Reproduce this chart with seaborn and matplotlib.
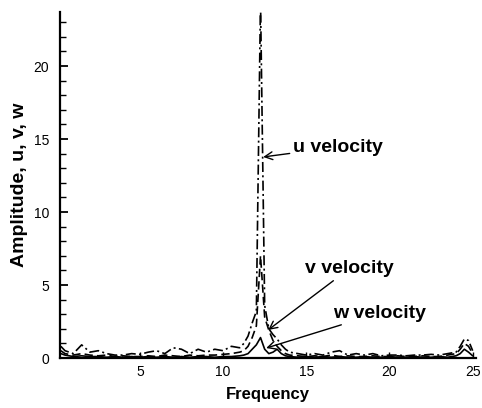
import numpy as np
import pandas as pd
import matplotlib
matplotlib.use("Agg")
import matplotlib.pyplot as plt
import seaborn as sns

freq = [0.25, 0.5, 1.0, 1.5, 2.0, 2.5, 3.0, 3.5, 4.0, 4.5, 5.0, 5.5, 6.0, 6.5,
        7.0, 7.5, 8.0, 8.5, 9.0, 9.5, 10.0, 10.5, 11.0, 11.25, 11.5, 11.75,
        12.0, 12.25, 12.5, 12.75, 13.0, 13.25, 13.5, 13.75, 14.0, 14.5, 15.0,
        15.5, 16.0, 16.5, 17.0, 17.5, 18.0, 18.5, 19.0, 19.5, 20.0, 20.5, 21.0,
        21.5, 22.0, 22.5, 23.0, 23.5, 24.0, 24.25, 24.5, 24.75, 25.0]

u_amp = [0.8, 0.5, 0.3, 0.9, 0.4, 0.5, 0.3, 0.2, 0.2, 0.3, 0.25, 0.4, 0.5, 0.3,
         0.7, 0.6, 0.3, 0.6, 0.4, 0.6, 0.5, 0.8, 0.7, 1.0, 1.5, 2.4,
         3.2, 24.5, 3.6, 2.0, 1.6, 1.3, 0.9, 0.6, 0.4, 0.3, 0.2,
         0.3, 0.2, 0.4, 0.5, 0.2, 0.3, 0.2, 0.3, 0.15, 0.2, 0.2, 0.15,
         0.2, 0.2, 0.25, 0.2, 0.3, 0.4, 0.8, 1.3, 1.2, 0.5]

v_amp = [0.5, 0.3, 0.2, 0.3, 0.2, 0.15, 0.2, 0.1, 0.15, 0.1, 0.1, 0.15, 0.1, 0.2,
         0.15, 0.1, 0.2, 0.15, 0.2, 0.2, 0.25, 0.3, 0.4, 0.5, 0.8, 1.4,
         2.2, 7.0, 2.8, 1.9, 1.2, 0.8, 0.5, 0.3, 0.2, 0.15, 0.1,
         0.15, 0.1, 0.2, 0.1, 0.15, 0.1, 0.1, 0.15, 0.1, 0.1, 0.15, 0.1,
         0.1, 0.15, 0.1, 0.1, 0.2, 0.3, 0.6, 1.0, 0.8, 0.3]

w_amp = [0.3, 0.2, 0.1, 0.15, 0.1, 0.1, 0.05, 0.1, 0.05, 0.1, 0.05, 0.1, 0.05, 0.1,
         0.05, 0.1, 0.05, 0.1, 0.1, 0.05, 0.1, 0.1, 0.15, 0.2, 0.3, 0.6,
         0.9, 1.4, 0.6, 0.3, 0.4, 0.6, 0.3, 0.15, 0.1, 0.05, 0.1,
         0.05, 0.1, 0.05, 0.1, 0.05, 0.05, 0.1, 0.05, 0.05, 0.1, 0.05, 0.05,
         0.1, 0.05, 0.05, 0.1, 0.05, 0.15, 0.3, 0.6, 0.4, 0.15]

series_names = ["u velocity", "v velocity", "w velocity"]
x_ticks = [5, 10, 15, 20, 25]
y_ticks = [0, 5, 10, 15, 20]

df = pd.DataFrame({"Frequency": freq, "u": u_amp, "v": v_amp, "w": w_amp})

sns.set_style("ticks")
plt.rcParams["font.family"] = ["Liberation Sans", "DejaVu Sans"]
plt.rcParams["text.color"] = "black"
plt.rcParams["axes.labelcolor"] = "black"

fig = plt.figure(figsize=(4.82, 4.08), dpi=100)
ax = fig.add_axes([60 / 482, 50 / 408, 416 / 482, 346 / 408])

sns.lineplot(data=df, x="Frequency", y="w", ax=ax, color="black", lw=1.2,
             linestyle="-")
sns.lineplot(data=df, x="Frequency", y="v", ax=ax, color="black", lw=1.2,
             linestyle=(0, (5, 2.5)))
sns.lineplot(data=df, x="Frequency", y="u", ax=ax, color="black", lw=1.2,
             linestyle=(0, (6, 2, 1.2, 2)))

ax.set_xlim(0.2, 25.2)
ax.set_ylim(0, 23.7)
ax.set_xticks(x_ticks)
ax.set_yticks(y_ticks)
ax.set_yticks(np.arange(0, 24, 1), minor=True)
sns.despine(ax=ax)
for s in ["left", "bottom"]:
    ax.spines[s].set_linewidth(1.6)
    ax.spines[s].set_color("black")
ax.tick_params(axis="y", which="major", direction="in", length=6, width=1.3,
               labelsize=10, pad=8, colors="black")
ax.tick_params(axis="y", which="minor", direction="in", length=4, width=1.0,
               colors="black")
ax.tick_params(axis="x", which="major", direction="in", length=4, width=1.0,
               labelsize=10, pad=5, colors="black")
ax.set_xticklabels([str(t) for t in x_ticks])
ax.set_yticklabels([str(t) for t in y_ticks])

ax.set_xlabel("Frequency", fontsize=12, fontweight="bold", labelpad=6,
              color="black")
ax.set_ylabel("Amplitude, u, v, w", fontsize=14, fontweight="bold",
              labelpad=4, color="black")

arrow = dict(arrowstyle="->", color="black", lw=1.0, shrinkA=0, shrinkB=0)
ax.annotate(series_names[0], xy=(12.41, 13.77), xytext=(14.2, 14.45),
            fontsize=14, fontweight="bold", va="center", ha="left",
            color="black", arrowprops=arrow)
ax.annotate(series_names[1], xy=(12.71, 1.92), xytext=(14.9, 6.1),
            fontsize=14, fontweight="bold", va="center", ha="left",
            color="black", arrowprops=arrow)
ax.annotate(series_names[2], xy=(12.59, 0.68), xytext=(16.6, 3.08),
            fontsize=14, fontweight="bold", va="center", ha="left",
            color="black", arrowprops=arrow)

fig.savefig("out.png", dpi=100)
